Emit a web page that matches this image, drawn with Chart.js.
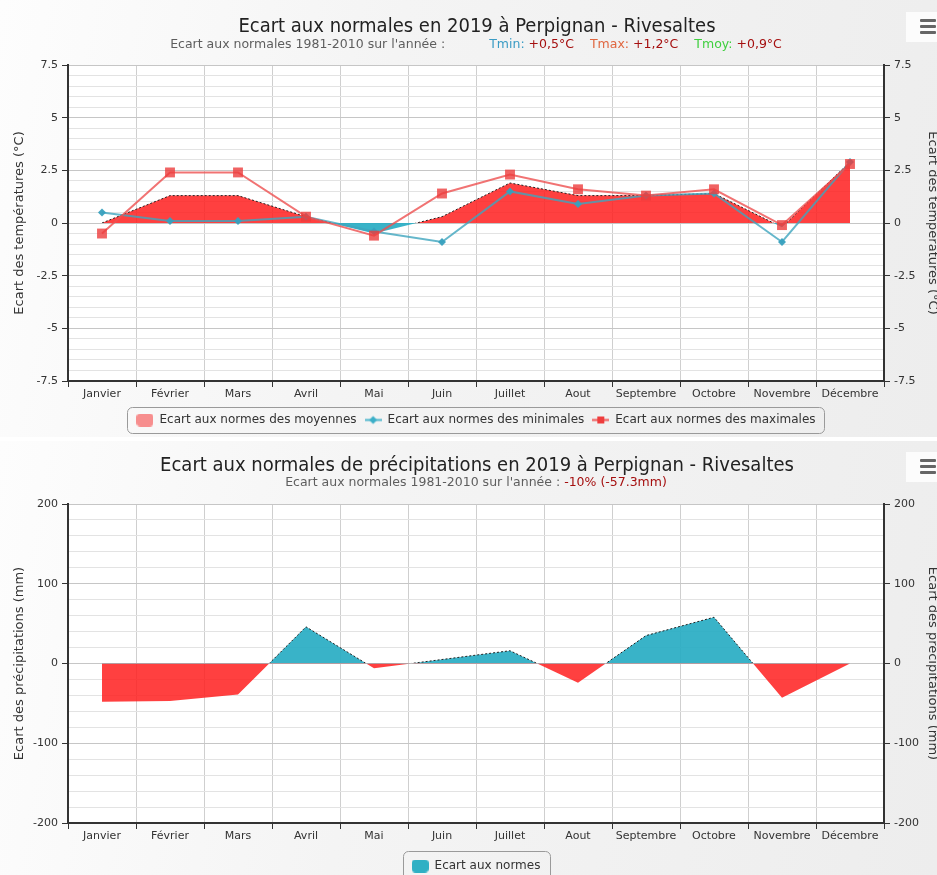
<!DOCTYPE html>
<html lang="fr">
<head>
<meta charset="utf-8">
<title>Ecart aux normales 2019 - Perpignan - Rivesaltes</title>
<script src="https://cdn.jsdelivr.net/npm/chart.js@4.4.1/dist/chart.umd.min.js"></script>
<style>
  body { margin: 0; width: 937px; height: 875px; overflow: hidden; background: #fff;
         font-family: 'DejaVu Sans', sans-serif; position: relative; }
  .panel { position: absolute; left: 0; width: 937px;
           background: linear-gradient(100deg, #fdfdfd 0%, #f4f4f4 40%, #ededed 100%); }
  .panel canvas { position: absolute; left: 0; top: 0; }
  .titre { position: absolute; left: 0; width: 954px; text-align: center; font-size: 20px;
           font-family: 'DejaVu Sans Condensed', 'DejaVu Sans', sans-serif;
           line-height: 24px; color: #222; }
  .soustitre { position: absolute; left: 0; width: 952px; text-align: center; font-size: 12.5px;
               line-height: 16px; color: #5e5e5e; white-space: nowrap; }
  .tmin { color: #3a9bc4; } .tmax { color: #e0663f; } .tmoy { color: #3fcf3f; } .val { color: #a50f0f; }
  .ecart { display: inline-block; }
  .menu { position: absolute; left: 906px; width: 31px; height: 30px; background: rgba(255,255,255,0.8); }
  .menu i { position: absolute; left: 14px; width: 16px; height: 3px; background: #666; border-radius: 1px; }
</style>
</head>
<body>

<div class="panel" style="top:0; height:437px;">
  <canvas id="graphTemp" width="937" height="436"></canvas>
  <div class="titre" style="top:13px;">Ecart aux normales en 2019 à Perpignan - Rivesaltes</div>
  <div class="soustitre" style="top:36px;">Ecart aux normales 1981-2010 sur l'année :<span class="ecart" style="width:44px"></span><span class="tmin">Tmin:</span> <span class="val">+0,5°C</span><span class="ecart" style="width:16px"></span><span class="tmax">Tmax:</span> <span class="val">+1,2°C</span><span class="ecart" style="width:16px"></span><span class="tmoy">Tmoy:</span> <span class="val">+0,9°C</span></div>
  <div class="menu" style="top:12px;"><i style="top:7px"></i><i style="top:13px"></i><i style="top:19px"></i></div>
</div>

<div class="panel" style="top:441px; height:441px;">
  <canvas id="graphPrecip" width="937" height="441"></canvas>
  <div class="titre" style="top:11px;">Ecart aux normales de précipitations en 2019 à Perpignan - Rivesaltes</div>
  <div class="soustitre" style="top:33px;">Ecart aux normales 1981-2010 sur l'année : <span class="val">-10% (-57.3mm)</span></div>
  <div class="menu" style="top:11px;"><i style="top:7px"></i><i style="top:13px"></i><i style="top:19px"></i></div>
</div>

<script>
const mois = ['Janvier', 'Février', 'Mars', 'Avril', 'Mai', 'Juin', 'Juillet', 'Aout', 'Septembre', 'Octobre', 'Novembre', 'Décembre'];

// écarts de température (°C)
const ecartMoy = [0.0, 1.3, 1.3, 0.3, -0.5, 0.3, 1.9, 1.3, 1.3, 1.4, -0.2, 2.9];
const ecartMin = [0.5, 0.1, 0.1, 0.3, -0.4, -0.9, 1.5, 0.9, 1.3, 1.4, -0.9, 2.9];
const ecartMax = [-0.5, 2.4, 2.4, 0.3, -0.6, 1.4, 2.3, 1.6, 1.3, 1.6, -0.1, 2.8];

// écarts de précipitations (mm)
const ecartPluie = [-48, -47, -39, 46, -6, 5, 16, -24, 35, 58, -43, 0];

const ticksTemp = [-7.5, -5, -2.5, 0, 2.5, 5, 7.5];
const ticksPluie = [-200, -100, 0, 100, 200];

const ROUGE = 'rgba(255, 30, 30, 0.85)';
const TURQUOISE = 'rgba(40, 172, 195, 0.92)';

Chart.defaults.font.family = "'DejaVu Sans', sans-serif";
Chart.defaults.font.size = 11;
Chart.defaults.color = '#333';

function estMajeur(v, liste) {
    return liste.some(l => Math.abs(l - v) < 1e-6);
}

// bordure pointillée visible seulement au-dessus de zéro
function pointilleHaut(ctx) {
    const chart = ctx.chart;
    const zone = chart.chartArea;
    if (!zone) return 'rgba(0,0,0,0)';
    const y0 = chart.scales.y.getPixelForValue(0);
    const s = Math.min(Math.max((y0 - zone.top) / (zone.bottom - zone.top), 0), 1);
    const g = chart.ctx.createLinearGradient(0, zone.top, 0, zone.bottom);
    g.addColorStop(0, '#222');
    g.addColorStop(s, '#222');
    g.addColorStop(s, 'rgba(0,0,0,0)');
    g.addColorStop(1, 'rgba(0,0,0,0)');
    return g;
}

function icone(dessin) {
    const c = document.createElement('canvas');
    c.width = 17;
    c.height = 13;
    dessin(c.getContext('2d'));
    return c;
}

const iconeMoy = icone(g => {
    g.fillStyle = '#f78e8e';
    g.beginPath(); g.roundRect(0, 0, 17, 13, 4); g.fill();
});
const iconeMin = icone(g => {
    g.strokeStyle = 'rgba(60,175,200,0.9)'; g.lineWidth = 2;
    g.beginPath(); g.moveTo(0, 6.5); g.lineTo(17, 6.5); g.stroke();
    g.fillStyle = 'rgba(60,175,200,1)';
    g.beginPath(); g.moveTo(8.5, 2.5); g.lineTo(12.5, 6.5); g.lineTo(8.5, 10.5); g.lineTo(4.5, 6.5); g.closePath(); g.fill();
});
const iconeMax = icone(g => {
    g.strokeStyle = 'rgba(238,70,70,0.9)'; g.lineWidth = 2;
    g.beginPath(); g.moveTo(0, 6.5); g.lineTo(17, 6.5); g.stroke();
    g.fillStyle = 'rgba(238,60,60,1)';
    g.fillRect(5, 3, 7, 7);
});
const iconePluie = icone(g => {
    g.fillStyle = '#2fb0c4';
    g.beginPath(); g.roundRect(0, 0, 17, 13, 4); g.fill();
});

const fondZone = {
    id: 'fondZone',
    beforeDraw(chart) {
        const z = chart.chartArea;
        chart.ctx.save();
        chart.ctx.fillStyle = '#fff';
        chart.ctx.fillRect(z.left, z.top, z.right - z.left, z.bottom - z.top);
        chart.ctx.restore();
    }
};

const cadreLegende = {
    id: 'cadreLegende',
    afterDraw(chart, args, opts) {
        const boites = chart.legend && chart.legend.legendHitBoxes;
        if (!boites || !boites.length) return;
        const g = chart.ctx;
        const gauche = Math.min(...boites.map(b => b.left)) - 9;
        const droite = Math.max(...boites.map(b => b.left + b.width)) + 9;
        const haut = Math.min(...boites.map(b => b.top)) - opts.pad;
        const bas = Math.max(...boites.map(b => b.top + b.height)) + opts.pad;
        g.save();
        g.strokeStyle = '#9a9a9a';
        g.lineWidth = 1;
        g.beginPath();
        g.roundRect(Math.round(gauche) + 0.5, Math.round(haut) + 0.5, Math.round(droite - gauche), Math.round(bas - haut), 5);
        g.stroke();
        g.restore();
    }
};

function axeY(pos, min, max, pas, labels, titre, principal) {
    return {
        type: 'linear',
        position: pos,
        min: min,
        max: max,
        afterFit: s => { s.width = pos === 'left' ? 68 : 53; },
        ticks: {
            stepSize: pas,
            autoSkip: false,
            padding: 4,
            color: '#333',
            font: { size: 11 },
            callback: v => estMajeur(v, labels) ? String(v) : ''
        },
        grid: {
            drawOnChartArea: principal,
            tickLength: 6,
            color: c => estMajeur(c.tick.value, labels) ? '#c6c6c6' : '#e3e3e3',
            tickColor: c => estMajeur(c.tick.value, labels) ? '#333' : 'rgba(0,0,0,0)'
        },
        border: { color: '#333', width: 2 },
        title: {
            display: true,
            text: titre,
            color: '#333',
            font: { size: 13 },
            padding: pos === 'left' ? { top: 12, bottom: 0 } : { top: -3, bottom: 0 }
        }
    };
}

function axeX(hauteur) {
    return {
        offset: true,
        afterFit: s => { s.height = hauteur; },
        grid: { offset: true, color: '#cfcfcf', tickColor: '#333', tickLength: 6 },
        border: { color: '#333', width: 2 },
        ticks: { color: '#333', font: { size: 11 }, padding: 1, maxRotation: 0, autoSkip: false }
    };
}

new Chart(document.getElementById('graphTemp'), {
    type: 'line',
    data: {
        labels: mois,
        datasets: [{
            label: 'Ecart aux normes des moyennes',
            data: ecartMoy,
            order: 3,
            fill: { target: 'origin', above: ROUGE, below: TURQUOISE },
            borderColor: pointilleHaut,
            borderWidth: 1,
            borderDash: [2, 2],
            pointRadius: 0,
            tension: 0
        }, {
            label: 'Ecart aux normes des minimales',
            data: ecartMin,
            order: 2,
            borderColor: 'rgba(62,165,190,0.8)',
            backgroundColor: 'rgba(55,160,190,0.95)',
            borderWidth: 2,
            pointStyle: 'rectRot',
            pointRadius: 4,
            pointBorderWidth: 0,
            fill: false
        }, {
            label: 'Ecart aux normes des maximales',
            data: ecartMax,
            order: 1,
            borderColor: 'rgba(238,80,80,0.8)',
            backgroundColor: 'rgba(236,60,60,0.8)',
            borderWidth: 2,
            pointStyle: 'rect',
            pointRadius: 7,
            pointBorderWidth: 0,
            fill: false
        }]
    },
    options: {
        responsive: false,
        animation: false,
        layout: { padding: { top: 65, left: 0, right: 0, bottom: 0 } },
        scales: {
            x: axeX(25),
            y: axeY('left', -7.5, 7.5, 0.5, ticksTemp, 'Ecart des températures (°C)', true),
            y2: axeY('right', -7.5, 7.5, 0.5, ticksTemp, 'Ecart des températures (°C)', false)
        },
        plugins: {
            legend: {
                position: 'bottom',
                fullSize: false,
                labels: {
                    usePointStyle: true,
                    pointStyleWidth: 17,
                    padding: 8,
                    color: '#333',
                    font: { size: 12 },
                    generateLabels: () => [
                        { text: 'Ecart aux normes des moyennes', pointStyle: iconeMoy, fillStyle: '#f78e8e', strokeStyle: 'rgba(0,0,0,0)', lineWidth: 0, datasetIndex: 0, fontColor: '#333' },
                        { text: 'Ecart aux normes des minimales', pointStyle: iconeMin, fillStyle: '#3cb0c8', strokeStyle: 'rgba(0,0,0,0)', lineWidth: 0, datasetIndex: 1, fontColor: '#333' },
                        { text: 'Ecart aux normes des maximales', pointStyle: iconeMax, fillStyle: '#ee4646', strokeStyle: 'rgba(0,0,0,0)', lineWidth: 0, datasetIndex: 2, fontColor: '#333' }
                    ]
                }
            },
            cadreLegende: { pad: 7 }
        }
    },
    plugins: [fondZone, cadreLegende]
});

new Chart(document.getElementById('graphPrecip'), {
    type: 'line',
    data: {
        labels: mois,
        datasets: [{
            label: 'Ecart aux normes',
            data: ecartPluie,
            fill: { target: 'origin', above: TURQUOISE, below: ROUGE },
            borderColor: pointilleHaut,
            borderWidth: 1,
            borderDash: [2, 2],
            pointRadius: 0,
            tension: 0
        }]
    },
    options: {
        responsive: false,
        animation: false,
        layout: { padding: { top: 63, left: 0, right: 0, bottom: 0 } },
        scales: {
            x: axeX(27),
            y: axeY('left', -200, 200, 20, ticksPluie, 'Ecart des précipitations (mm)', true),
            y2: axeY('right', -200, 200, 20, ticksPluie, 'Ecart des précipitations (mm)', false)
        },
        plugins: {
            legend: {
                position: 'bottom',
                fullSize: false,
                labels: {
                    usePointStyle: true,
                    pointStyleWidth: 17,
                    padding: 10,
                    color: '#333',
                    font: { size: 12 },
                    generateLabels: () => [
                        { text: 'Ecart aux normes', pointStyle: iconePluie, fillStyle: '#2fb0c4', strokeStyle: 'rgba(0,0,0,0)', lineWidth: 0, datasetIndex: 0, fontColor: '#333' }
                    ]
                }
            },
            cadreLegende: { pad: 9 }
        }
    },
    plugins: [fondZone, cadreLegende]
});
</script>
</body>
</html>
